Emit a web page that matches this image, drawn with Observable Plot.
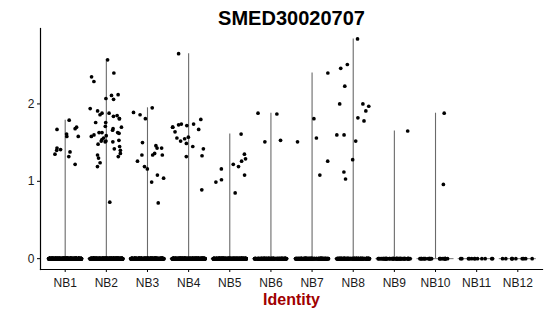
<!DOCTYPE html>
<html>
<head>
<meta charset="utf-8">
<script src="https://cdn.jsdelivr.net/npm/d3@7"></script>
<script src="https://cdn.jsdelivr.net/npm/@observablehq/plot@0.6"></script>
<style>
  html, body { margin: 0; padding: 0; background: white; }
</style>
</head>
<body>
<div id="chart"></div>
<script>
const title = "SMED30020707";
const xLabel = "Identity";
const categories = ["NB1","NB2","NB3","NB4","NB5","NB6","NB7","NB8","NB9","NB10","NB11","NB12"];
const yTicks = [0, 1, 2];

// non-zero expression values per identity
const nb1 = [1.79,1.70,1.68,1.67,1.61,1.58,1.58,1.43,1.35,1.38,1.41,1.40,1.32,1.22];
const nb2 = [2.57,2.40,2.35,2.29,2.12,2.11,2.06,2.07,1.88,1.94,1.91,1.84,1.88,1.86,1.85,1.81,1.81,1.76,1.76,1.71,1.70,1.66,1.68,1.63,1.63,1.59,1.63,1.62,1.60,1.56,1.58,1.53,1.51,1.51,1.48,1.52,1.54,1.52,1.45,1.42,1.40,1.36,1.34,1.32,1.30,1.24,1.19,0.73];
const nb3 = [1.95,1.89,1.86,1.81,1.50,1.34,1.34,1.43,1.46,1.43,1.34,1.36,1.26,1.19,1.16,1.08,1.04,0.99,0.72];
const nb4 = [2.65,1.80,1.70,1.70,1.72,1.74,1.74,1.73,1.67,1.64,1.56,1.57,1.55,1.52,1.49,1.42,1.45,1.33,1.32,0.89];
const nb5 = [1.61,1.35,1.29,1.26,1.22,1.19,1.16,1.08,1.02,0.99,0.85];
const nb6 = [1.88,1.87,1.53,1.51];
const nb7 = [2.40,1.81,1.51,1.56,1.26,1.08];
const nb8 = [2.84,2.51,2.46,2.23,2.00,1.97,2.00,1.91,1.82,1.78,1.60,1.60,1.52,1.28,1.12,1.03];
const nb9 = [1.65];
const nb10 = [1.88,0.96];
const nb11 = [];
const nb12 = [];
// number of cells with zero expression per identity (estimated)
const zeroCounts = [400,400,350,350,300,150,150,150,60,25,12,10];

const valueLists = [nb1,nb2,nb3,nb4,nb5,nb6,nb7,nb8,nb9,nb10,nb11,nb12];

// build table; seeded jitter (geom_jitter style), deterministic
const rng = d3.randomUniform.source(d3.randomLcg(0.1234))(-0.4, 0.4);
const cells = [];
categories.forEach((c, i) => {
  valueLists[i].forEach(v => cells.push({i, v}));
  for (let k = 0; k < zeroCounts[i]; k++) cells.push({i, v: 0});
});
cells.forEach(d => d.jx = d.i + rng());

const violins = categories.map((c, i) => ({i, max: d3.max(valueLists[i]) ?? 0}));
const idx = categories.map((c, i) => i);

const plot = Plot.plot({
  width: 550,
  height: 316,
  marginLeft: 40,
  marginRight: 8,
  marginTop: 28,
  marginBottom: 47,
  style: {fontFamily: "'Liberation Sans', Arial, sans-serif", fontSize: "12px", color: "#000", background: "white"},
  x: {type: "linear", domain: [-0.6, categories.length - 0.4]},
  y: {domain: [-0.14, 2.975]},
  marks: [
    Plot.ruleY(idx, {y: 0, x1: i => i - 0.45, x2: i => i + 0.45, stroke: "#777", strokeWidth: 1}),
    Plot.ruleX(violins.filter(d => d.max > 0), {x: "i", y1: 0, y2: "max", stroke: "#6a6a6a", strokeWidth: 1.1}),
    Plot.dot(cells, {x: "jx", y: "v", r: 1.85, fill: "black", stroke: "none"}),
    Plot.frame({anchor: "left", stroke: "black", strokeWidth: 1.2}),
    Plot.frame({anchor: "bottom", stroke: "black", strokeWidth: 1.2}),
    Plot.axisY({ticks: yTicks, tickFormat: "d", tickSize: 3, tickPadding: 3, label: null, fontSize: 12, fill: "#1a1a1a"}),
    Plot.axisX({ticks: idx, tickFormat: i => categories[i], tickSize: 3, tickPadding: 6, label: null, fontSize: 12, fill: "#1a1a1a"}),
    Plot.text([title], {frameAnchor: "top", dy: -18, text: d => d, fontSize: 20, fontWeight: "bold", fill: "black"}),
    Plot.text([xLabel], {frameAnchor: "bottom", dy: 35, text: d => d, fontSize: 16, fontWeight: "bold", fill: "#a00000"})
  ]
});
document.getElementById("chart").appendChild(plot);
</script>
</body>
</html>
